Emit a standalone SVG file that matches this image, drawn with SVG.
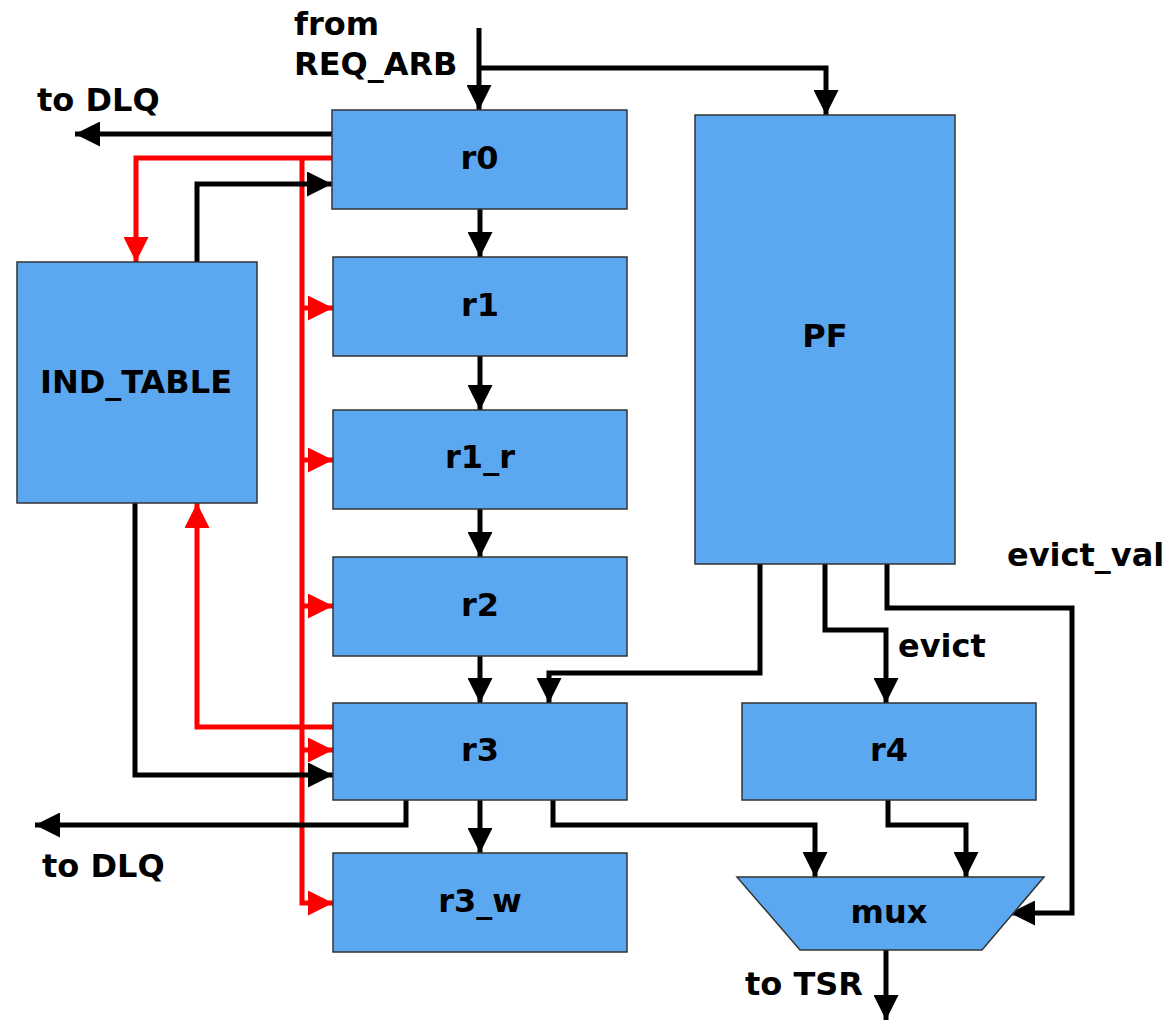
<svg xmlns="http://www.w3.org/2000/svg" width="1173" height="1023" viewBox="0 0 1173 1023">
<style>
.box{fill:#5ba8f1;stroke:#333;stroke-width:1.5}
.lbl{font-family:"DejaVu Sans",sans-serif;font-weight:bold;font-size:32px;fill:#000}
.nl{text-anchor:middle}
.k{fill:none;stroke:#000;stroke-width:5}
.r{fill:none;stroke:#ff0000;stroke-width:5}
</style>
<defs>
<marker id="ak" markerWidth="5" markerHeight="5" refX="5" refY="2.5" orient="auto" markerUnits="strokeWidth"><path d="M0,0 L5,2.5 L0,5 z" fill="#000"/></marker>
<marker id="ar" markerWidth="5" markerHeight="5" refX="5" refY="2.5" orient="auto" markerUnits="strokeWidth"><path d="M0,0 L5,2.5 L0,5 z" fill="#ff0000"/></marker>
</defs>
<rect width="1173" height="1023" fill="#fff"/>
<g id="connectors">
<path class="k" d="M479,28 V110" marker-end="url(#ak)"/>
<path class="k" d="M479,68 H826 V115" marker-end="url(#ak)"/>
<path class="k" d="M332,134 H75" marker-end="url(#ak)"/>
<path class="r" d="M332,158 H136 V262" marker-end="url(#ar)"/>
<path class="r" d="M302,158 V903 H333" marker-end="url(#ar)"/>
<path class="r" d="M302,308 H333" marker-end="url(#ar)"/>
<path class="r" d="M302,460 H333" marker-end="url(#ar)"/>
<path class="r" d="M302,606 H333" marker-end="url(#ar)"/>
<path class="r" d="M302,750 H333" marker-end="url(#ar)"/>
<path class="k" d="M197,262 V184 H332" marker-end="url(#ak)"/>
<path class="k" d="M135,503 V775 H333" marker-end="url(#ak)"/>
<path class="r" d="M333,727 H197 V503" marker-end="url(#ar)"/>
<path class="k" d="M480,209 V257" marker-end="url(#ak)"/>
<path class="k" d="M480,356 V410" marker-end="url(#ak)"/>
<path class="k" d="M480,509 V557" marker-end="url(#ak)"/>
<path class="k" d="M480,656 V703" marker-end="url(#ak)"/>
<path class="k" d="M480,800 V853" marker-end="url(#ak)"/>
<path class="k" d="M760,564 V673 H549 V703" marker-end="url(#ak)"/>
<path class="k" d="M825,564 V630 H886 V703" marker-end="url(#ak)"/>
<path class="k" d="M887,564 V608 H1072 V913 H1010" marker-end="url(#ak)"/>
<path class="k" d="M406,800 V825 H35" marker-end="url(#ak)"/>
<path class="k" d="M553,800 V825 H815 V877" marker-end="url(#ak)"/>
<path class="k" d="M888,800 V825 H966 V877" marker-end="url(#ak)"/>
<path class="k" d="M886,950 V1020" marker-end="url(#ak)"/>
</g>
<g id="r0"><rect class="box" x="332" y="110" width="295" height="99"/><text class="lbl nl" x="479.5" y="169">r0</text></g>
<g id="r1"><rect class="box" x="333" y="257" width="294" height="99"/><text class="lbl nl" x="480" y="316">r1</text></g>
<g id="r1_r"><rect class="box" x="333" y="410" width="294" height="99"/><text class="lbl nl" x="480" y="468">r1_r</text></g>
<g id="r2"><rect class="box" x="333" y="557" width="294" height="99"/><text class="lbl nl" x="480" y="616">r2</text></g>
<g id="r3"><rect class="box" x="333" y="703" width="294" height="97"/><text class="lbl nl" x="480" y="761">r3</text></g>
<g id="r3_w"><rect class="box" x="333" y="853" width="294" height="99"/><text class="lbl nl" x="480" y="912">r3_w</text></g>
<g id="IND_TABLE"><rect class="box" x="17" y="262" width="240" height="241"/><text class="lbl nl" x="136" y="393">IND_TABLE</text></g>
<g id="PF"><rect class="box" x="695" y="115" width="260" height="449"/><text class="lbl nl" x="825" y="347">PF</text></g>
<g id="r4"><rect class="box" x="742" y="703" width="294" height="97"/><text class="lbl nl" x="889" y="761">r4</text></g>
<g id="mux"><polygon class="box" points="737,877 1044,877 982,950 800,950"/><text class="lbl nl" x="889" y="923">mux</text></g>
<g id="labels">
<text class="lbl" x="294" y="35">from</text>
<text class="lbl" x="294" y="75">REQ_ARB</text>
<text class="lbl" x="37" y="111">to DLQ</text>
<text class="lbl" x="42" y="877">to DLQ</text>
<text class="lbl" x="898" y="657">evict</text>
<text class="lbl" x="1007" y="566">evict_val</text>
<text class="lbl" x="745" y="995">to TSR</text>
</g>
</svg>
